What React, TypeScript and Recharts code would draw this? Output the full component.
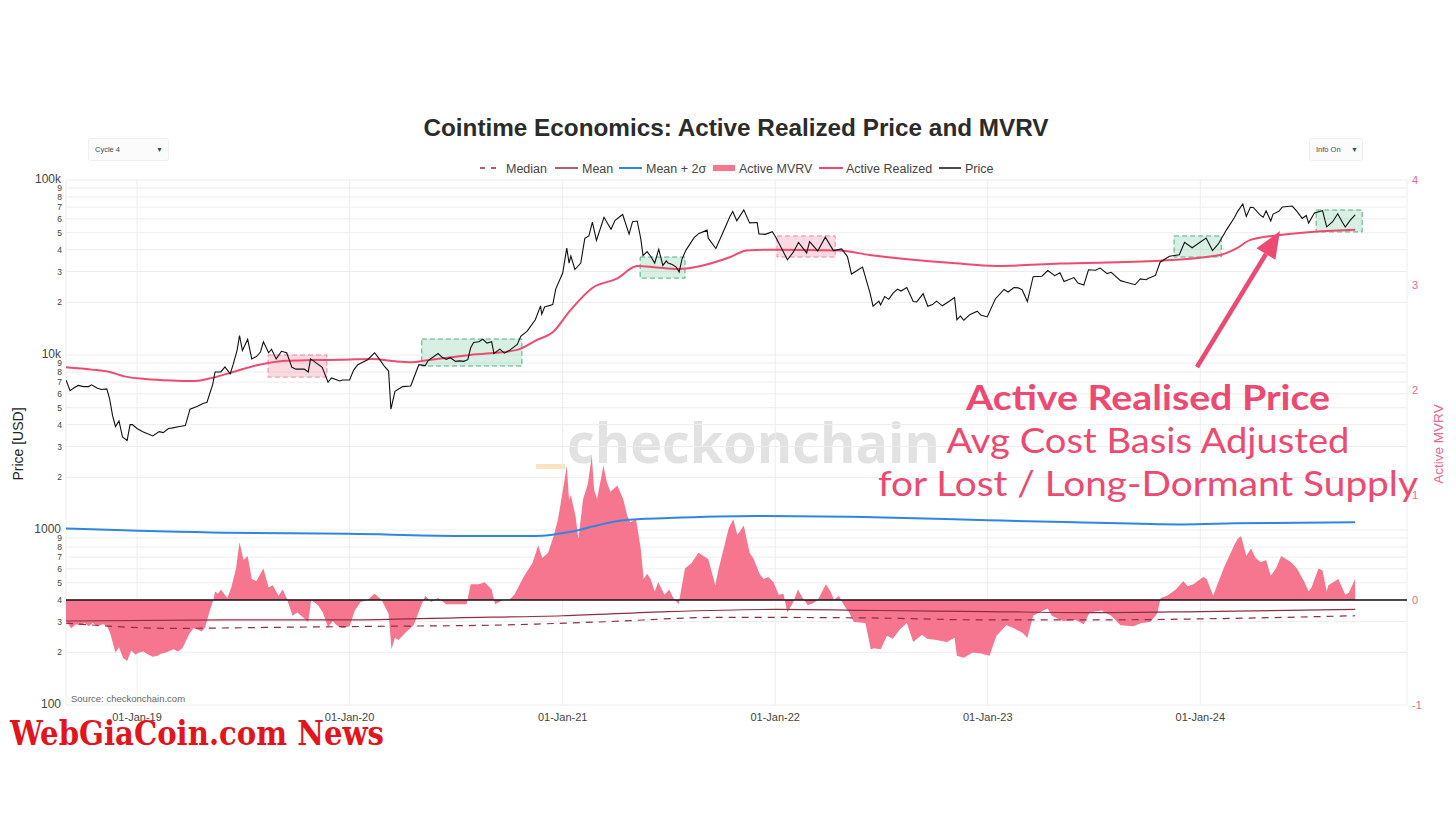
import React from "react";
import {
  ComposedChart,
  Line,
  Area,
  XAxis,
  YAxis,
  CartesianGrid,
  ReferenceLine,
  ReferenceArea,
} from "recharts";

const W = 1456;
const H = 816;

// ---------- DATA ----------
const xDomainDates = ["2018-09-01", "2024-12-21"];
const yearTickDates = ["2019-01-01", "2020-01-01", "2021-01-01", "2022-01-01", "2023-01-01", "2024-01-01"];
const yearTickLabels = ["01-Jan-19", "01-Jan-20", "01-Jan-21", "01-Jan-22", "01-Jan-23", "01-Jan-24"];

const priceTicks = [
  100, 200, 300, 400, 500, 600, 700, 800, 900,
  1000, 2000, 3000, 4000, 5000, 6000, 7000, 8000, 9000,
  10000, 20000, 30000, 40000, 50000, 60000, 70000, 80000, 90000,
  100000,
];
const priceTickLabels = [
  "100", "2", "3", "4", "5", "6", "7", "8", "9",
  "1000", "2", "3", "4", "5", "6", "7", "8", "9",
  "10k", "2", "3", "4", "5", "6", "7", "8", "9",
  "100k",
];
const mvrvTicks = [-1, 0, 1, 2, 3, 4];

const priceSeries: [string, number][] = [
  ["2018-09-01", 7200], ["2018-09-08", 6250], ["2018-09-15", 6500], ["2018-09-22", 6700], ["2018-10-01", 6600],
  ["2018-10-10", 6600], ["2018-10-15", 6750], ["2018-10-25", 6450], ["2018-11-01", 6350], ["2018-11-10", 6400],
  ["2018-11-15", 5600], ["2018-11-20", 4500], ["2018-11-25", 3900], ["2018-12-01", 4200], ["2018-12-07", 3400],
  ["2018-12-15", 3250], ["2018-12-20", 4000], ["2018-12-24", 4000], ["2019-01-01", 3800], ["2019-01-10", 3650],
  ["2019-01-15", 3600], ["2019-01-28", 3450], ["2019-02-08", 3650], ["2019-02-15", 3600], ["2019-02-24", 3800],
  ["2019-03-01", 3820], ["2019-03-15", 3900], ["2019-03-25", 3950], ["2019-04-02", 4900], ["2019-04-15", 5100],
  ["2019-04-25", 5300], ["2019-05-01", 5350], ["2019-05-11", 6800], ["2019-05-15", 8000], ["2019-05-25", 8000],
  ["2019-06-01", 8550], ["2019-06-10", 7800], ["2019-06-15", 8800], ["2019-06-22", 10700], ["2019-06-26", 12900],
  ["2019-07-01", 10600], ["2019-07-10", 12300], ["2019-07-17", 9500], ["2019-07-25", 9800], ["2019-08-01", 10400],
  ["2019-08-06", 11900], ["2019-08-15", 10300], ["2019-08-20", 10800], ["2019-08-28", 9500], ["2019-09-06", 10500],
  ["2019-09-15", 10300], ["2019-09-24", 8500], ["2019-10-01", 8300], ["2019-10-15", 8300], ["2019-10-22", 8000],
  ["2019-10-26", 9500], ["2019-11-01", 9200], ["2019-11-15", 8500], ["2019-11-25", 7000], ["2019-12-01", 7400],
  ["2019-12-15", 7100], ["2019-12-20", 7200], ["2020-01-01", 7200], ["2020-01-08", 8200], ["2020-01-15", 8800],
  ["2020-02-01", 9400], ["2020-02-13", 10300], ["2020-02-20", 9600], ["2020-03-01", 8600], ["2020-03-08", 8100],
  ["2020-03-12", 4900], ["2020-03-19", 6200], ["2020-04-01", 6600], ["2020-04-15", 6650], ["2020-04-29", 8800],
  ["2020-05-10", 8700], ["2020-05-15", 9300], ["2020-06-01", 10200], ["2020-06-08", 9700], ["2020-06-15", 9450],
  ["2020-06-22", 9650], ["2020-07-01", 9200], ["2020-07-08", 9250], ["2020-07-15", 9200], ["2020-07-22", 9400],
  ["2020-07-27", 11000], ["2020-08-01", 11800], ["2020-08-10", 11900], ["2020-08-17", 12300], ["2020-08-24", 11700],
  ["2020-09-01", 11900], ["2020-09-05", 10200], ["2020-09-15", 10800], ["2020-09-23", 10250], ["2020-10-01", 10600],
  ["2020-10-15", 11500], ["2020-10-21", 12800], ["2020-11-01", 13700], ["2020-11-15", 15900], ["2020-11-24", 19100],
  ["2020-11-26", 17100], ["2020-12-01", 18800], ["2020-12-15", 19400], ["2020-12-20", 23800], ["2021-01-01", 29400],
  ["2021-01-08", 40800], ["2021-01-12", 33500], ["2021-01-15", 36800], ["2021-01-22", 30800], ["2021-02-01", 33500],
  ["2021-02-08", 46400], ["2021-02-15", 47900], ["2021-02-21", 57400], ["2021-02-28", 45200], ["2021-03-13", 61200],
  ["2021-03-25", 52300], ["2021-04-01", 58800], ["2021-04-14", 63500], ["2021-04-25", 49000], ["2021-05-01", 57800],
  ["2021-05-09", 58300], ["2021-05-15", 46400], ["2021-05-19", 37000], ["2021-05-26", 39000], ["2021-06-01", 36700],
  ["2021-06-08", 33500], ["2021-06-15", 40200], ["2021-06-22", 32500], ["2021-06-28", 34500], ["2021-07-01", 33500],
  ["2021-07-08", 32900], ["2021-07-15", 31800], ["2021-07-20", 29800], ["2021-07-25", 35400], ["2021-08-01", 39900],
  ["2021-08-15", 47000], ["2021-08-23", 49500], ["2021-09-06", 51700], ["2021-09-08", 46500], ["2021-09-21", 40600],
  ["2021-10-01", 48200], ["2021-10-15", 61700], ["2021-10-20", 66000], ["2021-10-27", 58500], ["2021-11-08", 67500],
  ["2021-11-18", 56900], ["2021-12-01", 57200], ["2021-12-04", 49200], ["2021-12-15", 48900], ["2021-12-27", 50700],
  ["2022-01-01", 47700], ["2022-01-10", 41800], ["2022-01-22", 35000], ["2022-02-01", 38700], ["2022-02-10", 44000],
  ["2022-02-24", 38300], ["2022-03-01", 44400], ["2022-03-15", 39300], ["2022-03-28", 47100], ["2022-04-11", 39500],
  ["2022-04-25", 40400], ["2022-05-05", 36500], ["2022-05-12", 29000], ["2022-05-31", 31800], ["2022-06-13", 22500],
  ["2022-06-18", 19000], ["2022-06-28", 20300], ["2022-07-01", 19300], ["2022-07-08", 21600], ["2022-07-15", 20800],
  ["2022-07-22", 22500], ["2022-07-30", 23800], ["2022-08-05", 23200], ["2022-08-15", 24300], ["2022-08-26", 20200],
  ["2022-09-01", 20100], ["2022-09-12", 22400], ["2022-09-20", 19000], ["2022-09-28", 19400], ["2022-10-05", 20300],
  ["2022-10-15", 19100], ["2022-10-25", 20100], ["2022-11-05", 21300], ["2022-11-09", 15900], ["2022-11-15", 16700],
  ["2022-11-21", 15800], ["2022-12-01", 17000], ["2022-12-14", 17800], ["2022-12-20", 16900], ["2022-12-31", 16500],
  ["2023-01-14", 20900], ["2023-01-29", 23700], ["2023-02-05", 22900], ["2023-02-15", 24300], ["2023-02-22", 24200],
  ["2023-03-01", 23600], ["2023-03-10", 20200], ["2023-03-20", 28000], ["2023-04-04", 28200], ["2023-04-14", 30400],
  ["2023-04-26", 28400], ["2023-05-05", 29500], ["2023-05-12", 26300], ["2023-05-29", 27700], ["2023-06-05", 25800],
  ["2023-06-15", 25100], ["2023-06-23", 30700], ["2023-07-05", 30500], ["2023-07-13", 31400], ["2023-07-25", 29200],
  ["2023-08-01", 29700], ["2023-08-17", 26600], ["2023-08-25", 26100], ["2023-09-11", 25200], ["2023-09-20", 27200],
  ["2023-09-30", 26900], ["2023-10-05", 27500], ["2023-10-16", 28500], ["2023-10-24", 33900], ["2023-11-09", 36700],
  ["2023-11-26", 37400], ["2023-12-05", 44000], ["2023-12-18", 41000], ["2024-01-11", 46600], ["2024-01-22", 39500],
  ["2024-02-01", 43100], ["2024-02-15", 51900], ["2024-02-29", 61200], ["2024-03-05", 66000], ["2024-03-14", 73000],
  ["2024-03-20", 62000], ["2024-03-27", 69900], ["2024-04-01", 69700], ["2024-04-13", 63000], ["2024-04-18", 61300],
  ["2024-04-23", 66700], ["2024-05-01", 58300], ["2024-05-05", 63900], ["2024-05-15", 66200], ["2024-05-21", 70100],
  ["2024-06-07", 71000], ["2024-06-15", 66200], ["2024-06-24", 60300], ["2024-07-01", 62700], ["2024-07-05", 56700],
  ["2024-07-15", 64800], ["2024-07-29", 66800], ["2024-08-05", 54000], ["2024-08-15", 57600], ["2024-08-24", 64100],
  ["2024-09-01", 57300], ["2024-09-06", 53900], ["2024-09-15", 59200], ["2024-09-23", 63300],
];

const activeRealizedSeries: [string, number][] = [
  ["2018-09-01", 8500], ["2018-10-15", 8250], ["2018-11-15", 8000], ["2018-12-10", 7550], ["2019-01-15", 7300],
  ["2019-03-01", 7150], ["2019-04-10", 7100], ["2019-05-10", 7400], ["2019-06-15", 8000], ["2019-07-30", 8800],
  ["2019-09-08", 9250], ["2019-11-01", 9350], ["2019-12-20", 9400], ["2020-02-10", 9500], ["2020-03-20", 9200],
  ["2020-04-17", 9100], ["2020-05-10", 9300], ["2020-07-26", 10000], ["2020-10-15", 10700], ["2020-11-18", 12200],
  ["2020-12-15", 13500], ["2021-01-14", 18000], ["2021-02-22", 24300], ["2021-04-04", 27300], ["2021-05-09", 32300],
  ["2021-06-12", 31600], ["2021-07-18", 31000], ["2021-10-16", 36300], ["2021-11-13", 39600], ["2022-01-01", 40000],
  ["2022-04-21", 39500], ["2022-06-12", 37300], ["2022-11-02", 33500], ["2023-01-17", 32300], ["2023-05-05", 33300],
  ["2023-10-24", 34600], ["2024-02-04", 37300], ["2024-03-04", 40800], ["2024-03-27", 45500], ["2024-05-17", 48500],
  ["2024-09-23", 52000],
];

const activeMvrvSeries: [string, number][] = [
  ["2018-09-01", -0.2], ["2018-09-10", -0.27], ["2018-09-18", -0.23], ["2018-09-25", -0.24], ["2018-10-03", -0.22],
  ["2018-10-10", -0.25], ["2018-10-17", -0.22], ["2018-10-25", -0.25], ["2018-11-03", -0.23], ["2018-11-10", -0.24],
  ["2018-11-16", -0.32], ["2018-11-25", -0.5], ["2018-12-01", -0.45], ["2018-12-08", -0.55], ["2018-12-15", -0.58],
  ["2018-12-22", -0.48], ["2018-12-29", -0.52], ["2019-01-05", -0.5], ["2019-01-12", -0.49], ["2019-01-20", -0.52],
  ["2019-01-28", -0.54], ["2019-02-05", -0.53], ["2019-02-12", -0.51], ["2019-02-20", -0.5], ["2019-02-27", -0.48],
  ["2019-03-05", -0.47], ["2019-03-12", -0.49], ["2019-03-20", -0.46], ["2019-04-01", -0.32], ["2019-04-08", -0.27],
  ["2019-04-15", -0.28], ["2019-04-22", -0.3], ["2019-04-28", -0.26], ["2019-05-05", -0.12], ["2019-05-12", 0.0],
  ["2019-05-15", 0.08], ["2019-05-20", 0.06], ["2019-05-25", 0.1], ["2019-06-05", 0.02], ["2019-06-12", 0.12],
  ["2019-06-20", 0.3], ["2019-06-26", 0.55], ["2019-07-03", 0.38], ["2019-07-10", 0.42], ["2019-07-17", 0.2],
  ["2019-07-25", 0.18], ["2019-08-06", 0.3], ["2019-08-15", 0.12], ["2019-08-22", 0.14], ["2019-09-01", 0.04],
  ["2019-09-08", 0.1], ["2019-09-15", 0.02], ["2019-09-25", -0.15], ["2019-10-03", -0.12], ["2019-10-10", -0.15],
  ["2019-10-22", -0.21], ["2019-10-27", 0.0], ["2019-11-08", -0.05], ["2019-11-16", -0.12], ["2019-11-25", -0.26],
  ["2019-12-03", -0.2], ["2019-12-10", -0.24], ["2019-12-20", -0.27], ["2020-01-01", -0.25], ["2020-01-10", -0.1],
  ["2020-01-20", -0.02], ["2020-02-01", 0.0], ["2020-02-13", 0.06], ["2020-02-25", 0.0], ["2020-03-08", -0.13],
  ["2020-03-13", -0.47], ["2020-03-19", -0.36], ["2020-03-25", -0.38], ["2020-04-08", -0.3], ["2020-04-20", -0.24],
  ["2020-05-01", -0.08], ["2020-05-10", 0.04], ["2020-05-20", -0.02], ["2020-06-01", 0.02], ["2020-06-15", -0.04],
  ["2020-07-01", -0.04], ["2020-07-20", -0.04], ["2020-07-27", 0.15], ["2020-08-10", 0.15], ["2020-08-20", 0.17],
  ["2020-09-01", 0.1], ["2020-09-07", -0.04], ["2020-09-20", 0.0], ["2020-10-01", 0.0], ["2020-10-10", 0.05],
  ["2020-10-27", 0.23], ["2020-11-10", 0.35], ["2020-11-20", 0.52], ["2020-11-27", 0.4], ["2020-12-07", 0.45],
  ["2020-12-16", 0.6], ["2020-12-24", 0.77], ["2021-01-03", 1.1], ["2021-01-08", 1.28], ["2021-01-12", 0.95],
  ["2021-01-15", 1.0], ["2021-01-23", 0.8], ["2021-01-28", 0.58], ["2021-02-05", 0.96], ["2021-02-13", 1.1],
  ["2021-02-20", 1.37], ["2021-02-24", 1.05], ["2021-03-01", 0.96], ["2021-03-12", 1.28], ["2021-03-18", 1.12],
  ["2021-03-24", 1.03], ["2021-04-05", 1.09], ["2021-04-15", 0.96], ["2021-04-22", 0.8], ["2021-04-27", 0.74],
  ["2021-05-07", 0.77], ["2021-05-15", 0.49], ["2021-05-20", 0.2], ["2021-05-26", 0.25], ["2021-06-01", 0.2],
  ["2021-06-08", 0.08], ["2021-06-14", 0.17], ["2021-06-25", 0.05], ["2021-07-03", 0.1], ["2021-07-10", 0.02],
  ["2021-07-19", -0.04], ["2021-07-30", 0.3], ["2021-08-10", 0.35], ["2021-08-22", 0.45], ["2021-09-08", 0.39],
  ["2021-09-20", 0.14], ["2021-09-26", 0.3], ["2021-10-05", 0.5], ["2021-10-13", 0.68], ["2021-10-21", 0.77],
  ["2021-10-28", 0.62], ["2021-11-08", 0.71], ["2021-11-18", 0.45], ["2021-11-25", 0.39], ["2021-12-05", 0.25],
  ["2021-12-12", 0.2], ["2021-12-20", 0.22], ["2021-12-29", 0.17], ["2022-01-07", 0.05], ["2022-01-15", 0.06],
  ["2022-01-22", -0.12], ["2022-02-01", -0.02], ["2022-02-09", 0.1], ["2022-02-17", 0.02], ["2022-02-26", -0.05],
  ["2022-03-07", -0.03], ["2022-03-15", 0.0], ["2022-03-29", 0.15], ["2022-04-06", 0.08], ["2022-04-12", 0.0],
  ["2022-04-20", 0.04], ["2022-04-29", -0.05], ["2022-05-08", -0.12], ["2022-05-16", -0.21], ["2022-06-05", -0.22],
  ["2022-06-14", -0.47], ["2022-06-20", -0.46], ["2022-07-01", -0.47], ["2022-07-12", -0.34], ["2022-07-22", -0.37],
  ["2022-08-03", -0.28], ["2022-08-15", -0.22], ["2022-08-26", -0.4], ["2022-09-10", -0.33], ["2022-09-19", -0.37],
  ["2022-10-05", -0.38], ["2022-10-23", -0.4], ["2022-11-05", -0.36], ["2022-11-09", -0.53], ["2022-11-21", -0.55],
  ["2022-12-06", -0.5], ["2022-12-20", -0.51], ["2023-01-04", -0.53], ["2023-01-16", -0.34], ["2023-02-02", -0.24],
  ["2023-02-15", -0.27], ["2023-03-01", -0.31], ["2023-03-10", -0.36], ["2023-03-20", -0.15], ["2023-03-30", -0.12],
  ["2023-04-14", -0.08], ["2023-04-21", -0.15], ["2023-05-10", -0.2], ["2023-06-01", -0.19], ["2023-06-15", -0.23],
  ["2023-06-25", -0.12], ["2023-07-15", -0.1], ["2023-08-01", -0.15], ["2023-08-17", -0.24], ["2023-09-08", -0.25],
  ["2023-09-22", -0.22], ["2023-10-07", -0.21], ["2023-10-19", -0.13], ["2023-10-25", 0.02], ["2023-11-05", 0.04],
  ["2023-11-20", 0.1], ["2023-12-03", 0.18], ["2023-12-10", 0.13], ["2023-12-20", 0.15], ["2024-01-06", 0.22],
  ["2024-01-12", 0.2], ["2024-01-23", 0.04], ["2024-02-10", 0.3], ["2024-02-28", 0.52], ["2024-03-05", 0.58],
  ["2024-03-11", 0.61], ["2024-03-20", 0.42], ["2024-03-28", 0.49], ["2024-04-05", 0.4], ["2024-04-14", 0.36],
  ["2024-04-23", 0.38], ["2024-05-01", 0.23], ["2024-05-10", 0.3], ["2024-05-19", 0.42], ["2024-06-05", 0.36],
  ["2024-06-15", 0.3], ["2024-06-28", 0.17], ["2024-07-05", 0.08], ["2024-07-10", 0.12], ["2024-07-22", 0.3],
  ["2024-07-29", 0.28], ["2024-08-05", 0.08], ["2024-08-08", 0.14], ["2024-08-25", 0.2], ["2024-09-06", 0.05],
  ["2024-09-12", 0.07], ["2024-09-23", 0.2],
];

const meanPlus2SigmaSeries: [string, number][] = [
  ["2018-09-01", 0.68], ["2019-06-01", 0.64], ["2020-01-01", 0.63], ["2020-07-01", 0.61], ["2020-11-15", 0.61],
  ["2021-01-15", 0.65], ["2021-03-01", 0.71], ["2021-04-15", 0.76], ["2021-07-01", 0.78], ["2021-12-01", 0.8],
  ["2022-06-01", 0.79], ["2023-01-01", 0.76], ["2023-06-01", 0.74], ["2023-12-01", 0.72], ["2024-03-01", 0.73],
  ["2024-09-23", 0.74],
];

const meanSeries: [string, number][] = [
  ["2018-09-01", -0.2], ["2019-06-01", -0.19], ["2020-01-01", -0.19], ["2020-07-01", -0.17], ["2021-01-01", -0.15],
  ["2021-07-01", -0.11], ["2022-01-01", -0.09], ["2022-07-01", -0.1], ["2023-01-01", -0.11], ["2023-07-01", -0.12],
  ["2024-01-01", -0.11], ["2024-09-23", -0.09],
];

const medianSeries: [string, number][] = [
  ["2018-09-01", -0.22], ["2019-03-01", -0.27], ["2019-09-01", -0.26], ["2020-03-01", -0.25], ["2020-09-01", -0.24],
  ["2021-03-01", -0.21], ["2021-10-01", -0.165], ["2022-06-01", -0.17], ["2023-01-01", -0.19], ["2023-07-01", -0.19],
  ["2024-01-01", -0.18], ["2024-09-23", -0.15],
];

// highlighted zones: [startDate, endDate, lowPrice, highPrice, kind]
const zones: [string, string, number, number, string][] = [
  ["2019-08-14", "2019-11-23", 7480, 10000, "pink"],
  ["2020-05-04", "2020-10-23", 8650, 12340, "green"],
  ["2021-05-14", "2021-07-30", 27500, 36300, "green"],
  ["2022-01-04", "2022-04-14", 36300, 47900, "pink"],
  ["2023-11-17", "2024-02-06", 36300, 47900, "green"],
  ["2024-07-18", "2024-10-05", 50500, 67400, "green"],
];

// ---------- TABLE ----------
const toTs = (d: string) => Date.UTC(+d.slice(0, 4), +d.slice(5, 7) - 1, +d.slice(8, 10));

type Row = { t: number; [k: string]: number };
function buildTable(): Row[] {
  const m = new Map<number, Row>();
  const add = (series: [string, number][], key: string) => {
    series.forEach(([d, v]) => {
      const t = toTs(d);
      if (!m.has(t)) m.set(t, { t });
      (m.get(t) as Row)[key] = v;
    });
  };
  add(priceSeries, "price");
  add(activeRealizedSeries, "realized");
  add(activeMvrvSeries, "mvrv");
  add(meanPlus2SigmaSeries, "mean2s");
  add(meanSeries, "mean");
  add(medianSeries, "median");
  return Array.from(m.values()).sort((a, b) => a.t - b.t);
}
const table = buildTable();

// ---------- STYLE ----------
const C = {
  price: "#111111",
  realized: "#ef4a70",
  mvrv: "#f6758f",
  blue: "#2f86e0",
  mean: "#8d2f42",
  pinkText: "#ec4a72",
  tick: "#444444",
  rightTick: "#ec6a8c",
  grid: "#eeeeee",
};
const FONT = "'Liberation Sans', Arial, sans-serif";

const PriceTick = (props: any) => {
  const { x, y, payload } = props;
  const idx = priceTicks.indexOf(payload.value);
  const label = idx >= 0 ? priceTickLabels[idx] : "";
  const major = label.length > 1;
  return (
    <text x={major ? x - 1 : x} y={y} dy={major ? 3 : 3} textAnchor="end" fontSize={major ? 12 : 8.5} fill={C.tick} fontFamily={FONT}>
      {label}
    </text>
  );
};

const yearLabel = (v: number) => {
  const i = yearTickDates.map(toTs).indexOf(v);
  return i >= 0 ? yearTickLabels[i] : "";
};

export default function App() {
  // arrow geometry (annotation)
  const tip = [1280, 231];
  const start = [1197, 367];
  const dx = tip[0] - start[0];
  const dy = tip[1] - start[1];
  const L = Math.sqrt(dx * dx + dy * dy);
  const ux = dx / L, uy = dy / L;
  const px = -uy, py = ux;
  const hl = 27, hw = 11;
  const bx = tip[0] - hl * ux, by = tip[1] - hl * uy;
  const head = `${tip[0]},${tip[1]} ${bx + hw * px},${by + hw * py} ${bx - hw * px},${by - hw * py}`;

  return (
    <div style={{ position: "absolute", left: 0, top: 0, width: W, height: H, background: "#fff", overflow: "hidden" }}>
      {/* under layer: watermark */}
      <svg width={W} height={H} style={{ position: "absolute", left: 0, top: 0 }}>
        <rect x={536} y={464} width={29} height={5} fill="#fbe3c2" />
        <text x={567} y={463} fontSize={56} fontWeight="bold" fill="#e2e2e2" fontFamily="'Open Sans', 'DejaVu Sans', sans-serif" textLength={373} lengthAdjust="spacingAndGlyphs">
          checkonchain
        </text>
      </svg>

      <div style={{ position: "absolute", left: 0, top: 0 }}>
        <ComposedChart width={W} height={H} data={table} margin={{ top: 180, right: 9, bottom: 81, left: 6 }}>
          <CartesianGrid yAxisId="left" stroke={C.grid} strokeWidth={1} />
          <XAxis
            dataKey="t"
            type="number"
            domain={xDomainDates.map(toTs)}
            allowDataOverflow
            ticks={yearTickDates.map(toTs)}
            tickFormatter={yearLabel}
            axisLine={false}
            tickLine={false}
            tickSize={0}
            tickMargin={8}
            height={30}
            tick={{ fontSize: 11, fill: C.tick, fontFamily: FONT }}
          />
          <YAxis
            yAxisId="left"
            orientation="left"
            type="number"
            scale="log"
            domain={[100, 100000]}
            allowDataOverflow
            ticks={priceTicks}
            interval={0}
            axisLine={false}
            tickLine={false}
            tickSize={0}
            tickMargin={4}
            width={60}
            tick={<PriceTick />}
          />
          <YAxis
            yAxisId="right"
            orientation="right"
            type="number"
            domain={[-1, 4]}
            allowDataOverflow
            ticks={mvrvTicks}
            interval={0}
            axisLine={false}
            tickLine={false}
            tickSize={0}
            tickMargin={5}
            width={40}
            tick={{ fontSize: 11, fill: C.rightTick, fontFamily: FONT }}
          />
          <Area
            yAxisId="right"
            dataKey="mvrv"
            type="linear"
            baseValue={0}
            fill={C.mvrv}
            fillOpacity={1}
            stroke="none"
            connectNulls
            dot={false}
            activeDot={false}
            isAnimationActive={false}
          />
          <ReferenceLine yAxisId="right" y={0} stroke="#111" strokeWidth={1.5} />
          <Line yAxisId="right" dataKey="median" type="monotone" stroke={C.mean} strokeWidth={1.2} strokeDasharray="7 6" connectNulls dot={false} activeDot={false} isAnimationActive={false} />
          <Line yAxisId="right" dataKey="mean" type="monotone" stroke={C.mean} strokeWidth={1.2} connectNulls dot={false} activeDot={false} isAnimationActive={false} />
          <Line yAxisId="right" dataKey="mean2s" type="monotone" stroke={C.blue} strokeWidth={2} connectNulls dot={false} activeDot={false} isAnimationActive={false} />
          <Line yAxisId="left" dataKey="realized" type="monotone" stroke={C.realized} strokeWidth={2} connectNulls dot={false} activeDot={false} isAnimationActive={false} />
          <Line yAxisId="left" dataKey="price" type="linear" stroke={C.price} strokeWidth={1.1} connectNulls dot={false} activeDot={false} isAnimationActive={false} />
          {zones.map(([d1, d2, lo, hi, kind], i) => (
            <ReferenceArea
              key={i}
              yAxisId="left"
              x1={toTs(d1)}
              x2={toTs(d2)}
              y1={lo}
              y2={hi}
              fill={kind === "green" ? "#4cbb85" : "#f07a98"}
              fillOpacity={kind === "green" ? 0.22 : 0.28}
              stroke={kind === "green" ? "#4cae80" : "#e88aa2"}
              strokeDasharray="5 3"
              strokeWidth={1}
              ifOverflow="extendDomain"
            />
          ))}
        </ComposedChart>
      </div>

      {/* overlay: titles, legend, annotation */}
      <svg width={W} height={H} style={{ position: "absolute", left: 0, top: 0, pointerEvents: "none" }}>
        <text x={736} y={136} textAnchor="middle" fontSize={24.3} fontWeight="bold" fill="#2b2b2b" fontFamily={FONT}>
          Cointime Economics: Active Realized Price and MVRV
        </text>

        {/* dropdowns */}
        <rect x={88.5} y={138.5} width={80} height={22} rx={2} fill="#fbfbfb" stroke="#f0f0f0" />
        <text x={95} y={152} fontSize={7.5} fill="#3a4a5a" fontFamily={FONT}>Cycle 4</text>
        <text x={156} y={152} fontSize={7} fill="#3a4a5a" fontFamily={FONT}>▼</text>
        <rect x={1309.5} y={138.5} width={53} height={22} rx={2} fill="#fbfbfb" stroke="#f0f0f0" />
        <text x={1316} y={152} fontSize={7.5} fill="#3a4a5a" fontFamily={FONT}>Info On</text>
        <text x={1351} y={152} fontSize={7} fill="#3a4a5a" fontFamily={FONT}>▼</text>

        {/* legend */}
        <g fontSize={12.5} fill="#444" fontFamily={FONT}>
          <line x1={480} y1={168} x2={500} y2={168} stroke={C.mean} strokeWidth={1.5} strokeDasharray="5 6" />
          <text x={506} y={172.5}>Median</text>
          <line x1={555} y1={168} x2={578} y2={168} stroke={C.mean} strokeWidth={1.5} />
          <text x={582} y={172.5}>Mean</text>
          <line x1={619} y1={168} x2={642} y2={168} stroke={C.blue} strokeWidth={2} />
          <text x={646} y={172.5}>Mean + 2σ</text>
          <rect x={713} y={165} width={22} height={6} fill={C.mvrv} />
          <text x={739} y={172.5}>Active MVRV</text>
          <line x1={819} y1={168} x2={843} y2={168} stroke={C.realized} strokeWidth={2} />
          <text x={846} y={172.5}>Active Realized</text>
          <line x1={939} y1={168} x2={961} y2={168} stroke={C.price} strokeWidth={1.5} />
          <text x={965} y={172.5}>Price</text>
        </g>

        {/* axis titles */}
        <text transform="translate(23,444) rotate(-90)" textAnchor="middle" fontSize={14} fill="#222" fontFamily={FONT}>Price [USD]</text>
        <text transform="translate(1443,444) rotate(-90)" textAnchor="middle" fontSize={13.5} fill={C.rightTick} fontFamily={FONT}>Active MVRV</text>

        <text x={71} y={702} fontSize={9.5} fill="#666" fontFamily={FONT}>Source: checkonchain.com</text>

        {/* annotation */}
        <line x1={start[0]} y1={start[1]} x2={bx} y2={by} stroke={C.pinkText} strokeWidth={4.5} />
        <polygon points={head} fill={C.pinkText} />
        <g fill={C.pinkText} fontFamily="Lato, 'Open Sans', sans-serif" textAnchor="middle">
          <text x={1148} y={410} fontSize={34} fontWeight="bold" textLength={364} lengthAdjust="spacingAndGlyphs">Active Realised Price</text>
          <text x={1148} y={453} fontSize={34} textLength={403} lengthAdjust="spacingAndGlyphs">Avg Cost Basis Adjusted</text>
          <text x={1148} y={496} fontSize={34} textLength={540} lengthAdjust="spacingAndGlyphs">for Lost / Long-Dormant Supply</text>
        </g>

        <text x={10} y={745} fontSize={34} fontWeight="bold" fill="#e3141c" fontFamily="'DejaVu Serif Condensed', 'DejaVu Serif', serif" textLength={374} lengthAdjust="spacingAndGlyphs">
          WebGiaCoin.com News
        </text>
      </svg>
    </div>
  );
}
